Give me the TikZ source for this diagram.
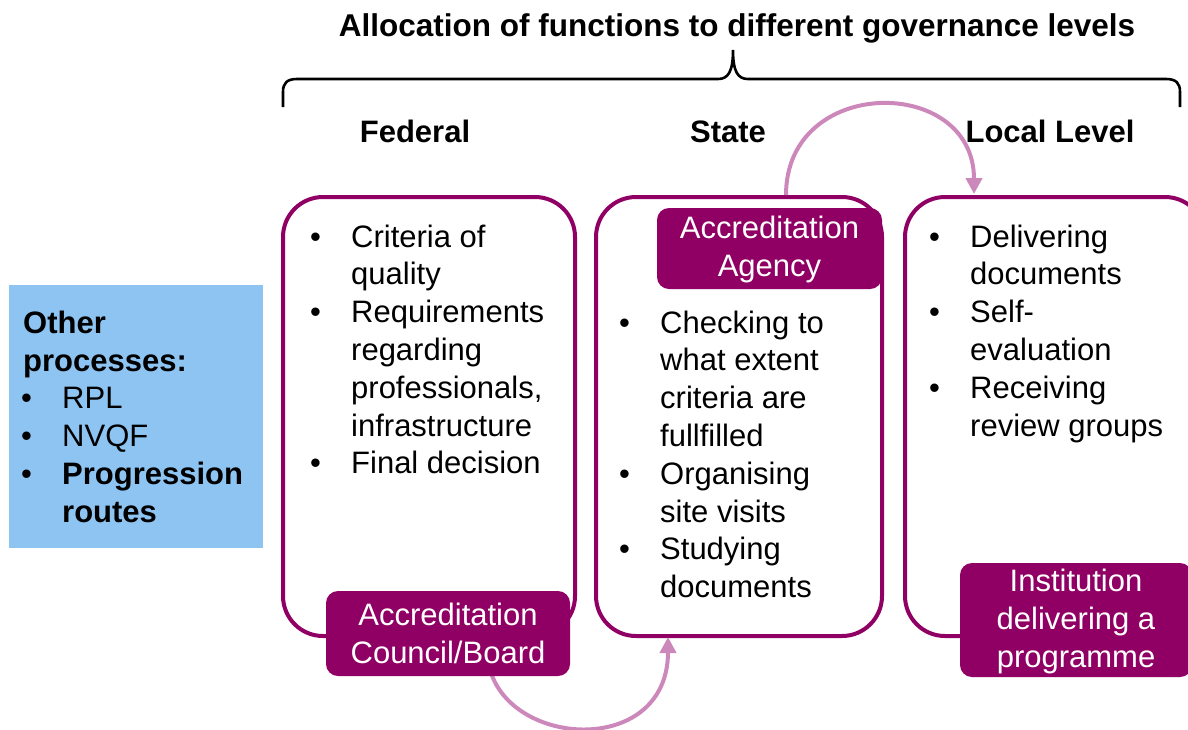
\documentclass[tikz,border=0pt]{standalone}
\usepackage{fontspec}
\setmainfont{Liberation Sans}
\usetikzlibrary{arrows.meta}
\definecolor{plum}{HTML}{900064}
\definecolor{arrowc}{HTML}{CC88BB}
\definecolor{skyblue}{HTML}{8EC4F2}
\newcommand\blines[4]{%
  \foreach \t [count=\i] in {#4}{\node[body,anchor=base west] (#1\i) at (#2,{#3+(\i-1)*37.8}) {\t};}}
\newcommand\bdots[4]{%
  \foreach \j in {#4}{\node[body,anchor=base west] (#1\j) at (#2,{#3+(\j-1)*37.8}) {•};}}
\begin{document}
\begin{tikzpicture}[x=1pt,y=-1pt,
  body/.style={inner sep=0pt,font=\fontsize{31}{37.8}\selectfont},
  head/.style={inner sep=0pt,anchor=base,font=\fontsize{31}{36}\selectfont\bfseries},
  levelbox/.style={draw=plum,line width=4pt,rounded corners=40pt,inner sep=0pt,minimum height=439pt},
  tagbox/.style={fill=plum,rounded corners=12pt,inner sep=0pt,text=white,align=center,font=\fontsize{31}{38}\selectfont},
  flow/.style={draw=arrowc,line width=4pt,-{Triangle[length=16pt,width=16pt]}}]
\useasboundingbox (0,0) rectangle (1188,729);
% title and brace
\node[head,font=\fontsize{31.5}{36}\selectfont\bfseries] (title) at (737,36) {Allocation of functions to different governance levels};
\draw[line width=2.6pt] (283,107) -- (283,92) .. controls (283,83) and (287,79) .. (297,79) -- (718,79)
  .. controls (728,79) and (733,72) .. (733,50) .. controls (733,72) and (738,79) .. (748,79) -- (1166,79)
  .. controls (1176,79) and (1180,83) .. (1180,92) -- (1180,107);
\node[head] (hfed) at (415,142) {Federal};
\node[head] (hstate) at (728,142) {State};
\node[head] (hlocal) at (1050,142) {Local Level};
% blue box
\node[fill=skyblue,minimum width=254pt,minimum height=263pt,inner sep=0pt] (other) at (136,416.5) {};
\node[body,anchor=base west,font=\fontsize{31}{37.8}\selectfont\bfseries] (o1) at (23,333) {Other};
\node[body,anchor=base west,font=\fontsize{31}{37.8}\selectfont\bfseries] (o2) at (23,371) {processes:};
\bdots{ob}{21}{333}{3,4,5}
\node[body,anchor=base west] (o3) at (62,{333+2*37.8}) {RPL};
\node[body,anchor=base west] (o4) at (62,{333+3*37.8}) {NVQF};
\node[body,anchor=base west,font=\fontsize{31}{37.8}\selectfont\bfseries] (o5) at (62,{333+4*37.8}) {Progression};
\node[body,anchor=base west,font=\fontsize{31}{37.8}\selectfont\bfseries] (o6) at (62,{333+5*37.8}) {routes};
% level boxes
\node[levelbox,minimum width=292pt] (fed) at (429,416.5) {};
\node[levelbox,minimum width=286pt] (state) at (739,416.5) {};
\node[levelbox,minimum width=300pt] (local) at (1055,416.5) {};
% connectors
\coordinate (a1x) at (488,0);
\coordinate (a1y) at (668,0);
\coordinate (a2x) at (786,0);
\coordinate (a2y) at (974,0);
\coordinate (a1s) at (a1x |- 0,660);
\draw[flow,shorten >=-1pt] (a1s) .. controls (500,748) and (668,760) .. (state.south -| a1y);
\draw[flow,shorten >=1pt] (state.north -| a2x) .. controls +(0,-120) and +(0,-120) .. (local.north -| a2y);
% tags
\node[tagbox,minimum width=244pt,minimum height=85pt] (council) at (448,633.5) {Accreditation\\Council/Board};
\node[tagbox,minimum width=225pt,minimum height=81pt,text depth=4pt] (agency) at (769.5,248.5) {Accreditation\\Agency};
\node[tagbox,minimum width=232pt,minimum height=114pt,text depth=3pt] (inst) at (1076,620) {Institution\\delivering a\\programme};
% texts
\bdots{fb}{310}{247}{1,3,7}
\blines{ft}{351}{247}{Criteria of,quality,Requirements,regarding,{professionals,},infrastructure,Final decision}
\bdots{sb}{619}{333}{1,5,7}
\blines{st}{660}{333}{Checking to,what extent,criteria are,fullfilled,Organising,site visits,Studying,documents}
\bdots{lb}{929}{247}{1,3,5}
\blines{lt}{970}{247}{Delivering,documents,Self-,evaluation,Receiving,review groups}
\end{tikzpicture}
\end{document}
